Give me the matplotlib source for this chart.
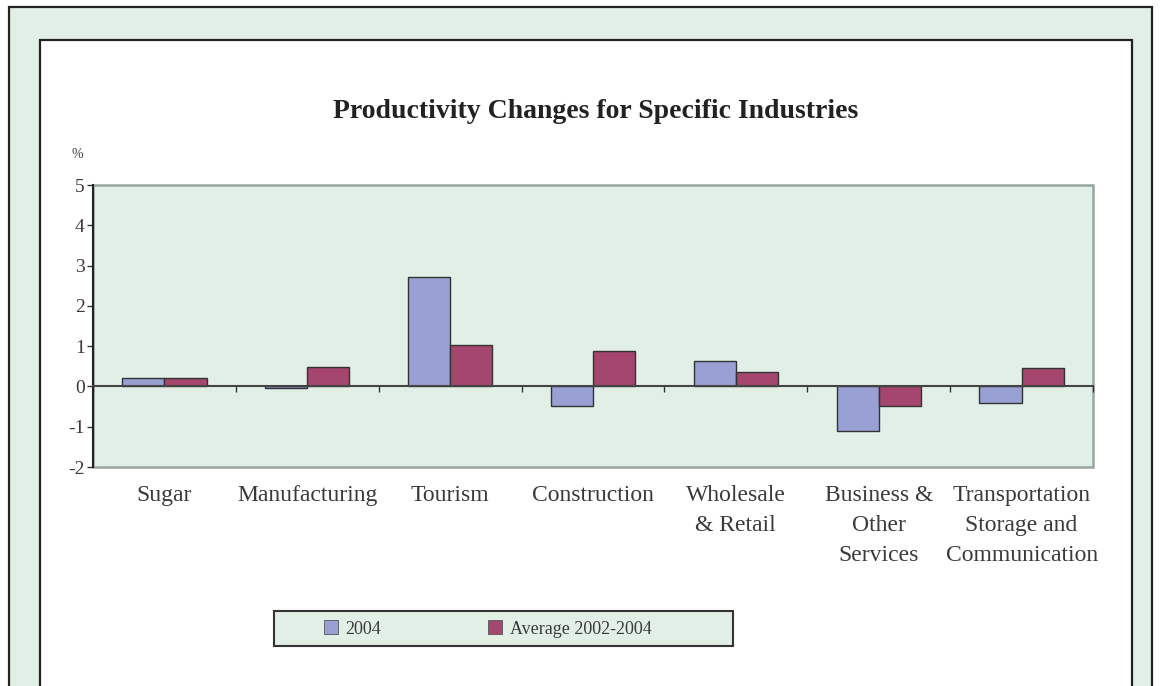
import matplotlib
matplotlib.use("Agg")
import matplotlib.pyplot as plt
from matplotlib.patches import Rectangle, Patch
import numpy as np

plt.rcParams['font.family'] = ['Liberation Serif', 'DejaVu Serif']
plt.rcParams['axes.unicode_minus'] = False

industries = ['Sugar', 'Manufacturing', 'Tourism', 'Construction',
              'Wholesale\n& Retail', 'Business &\nOther\nServices',
              'Transportation\nStorage and\nCommunication']
change_2004 = [0.22, -0.05, 2.72, -0.48, 0.62, -1.1, -0.42]
change_avg = [0.22, 0.48, 1.02, 0.88, 0.35, -0.48, 0.45]
series_names = ['2004', 'Average 2002-2004']

W, H = 1160, 686
BLUE = '#98a0d4'
PLUM = '#a5466e'
PANEL = '#e2efe6'
TEXT = '#3a3a3a'


def fx(px):
    return px / W


def fy(py):
    return 1 - py / H


fig = plt.figure(figsize=(W / 100, H / 100), dpi=100, facecolor='white')

# page frame: green band with dark border, white sheet inside
fig.add_artist(Rectangle((fx(9), fy(720)), fx(1152) - fx(9), fy(7) - fy(720),
                         transform=fig.transFigure, facecolor=PANEL,
                         edgecolor='#222222', linewidth=1.6, zorder=0))
fig.add_artist(Rectangle((fx(40), fy(720)), fx(1132) - fx(40), fy(40) - fy(720),
                         transform=fig.transFigure, facecolor='white',
                         edgecolor='#222222', linewidth=1.6, zorder=0))

ax = fig.add_axes([fx(93), fy(467), fx(1093) - fx(93), fy(185) - fy(467)])
ax.set_facecolor(PANEL)

x = np.arange(len(industries))
w = 0.295
ax.bar(x - w / 2, change_2004, w, color=BLUE, edgecolor='#333333', linewidth=1.0, zorder=3)
ax.bar(x + w / 2, change_avg, w, color=PLUM, edgecolor='#333333', linewidth=1.0, zorder=3)

ax.set_xlim(-0.5, len(industries) - 0.5)
ax.set_ylim(-2, 5)
ax.set_yticks(range(-2, 6))
ax.tick_params(axis='y', direction='out', length=4, width=1, color='#333333',
               labelsize=14, labelcolor=TEXT, pad=2)

# category axis sits on the zero line, ticks between groups
ax.spines['bottom'].set_position(('data', 0))
ax.spines['bottom'].set_color('#444444')
ax.spines['bottom'].set_linewidth(1.5)
ax.spines['bottom'].set_zorder(4)
ax.set_xticks(np.arange(-0.5, len(industries), 1.0))
ax.set_xticklabels([])
ax.tick_params(axis='x', direction='out', length=4, width=1, color='#333333')

ax.spines['left'].set_color('#222222')
ax.spines['left'].set_linewidth(1.5)
ax.spines['top'].set_visible(False)
ax.spines['right'].set_visible(False)
ax.add_patch(Rectangle((0, 0), 1, 1, transform=ax.transAxes, fill=False,
                       edgecolor='#9aa5a0', linewidth=1.8, zorder=1, clip_on=False))

for i, name in enumerate(industries):
    ax.annotate(name, xy=(i, -2), xytext=(0, -13), textcoords='offset points',
                ha='center', va='top', fontsize=17, color=TEXT, linespacing=1.55,
                annotation_clip=False)

fig.text(fx(77), fy(155), '%', ha='center', va='center', fontsize=10, color=TEXT)
fig.text(fx(596), fy(112), 'Productivity Changes for Specific Industries',
         ha='center', va='center', fontsize=20, fontweight='bold', color='#222222')

# legend box
fig.add_artist(Rectangle((fx(274), fy(646)), fx(733) - fx(274), fy(611) - fy(646),
                         transform=fig.transFigure, facecolor=PANEL,
                         edgecolor='#333333', linewidth=1.5, zorder=2))
handles = [Patch(facecolor=BLUE, edgecolor='#555555', linewidth=0.6),
           Patch(facecolor=PLUM, edgecolor='#555555', linewidth=0.6)]
leg = fig.legend(handles, series_names, loc='center left',
                 bbox_to_anchor=(fx(324), fy(629)), ncol=2, frameon=False,
                 fontsize=13, handlelength=0.8, handleheight=0.8,
                 handletextpad=0.4, columnspacing=5.9, borderpad=0,
                 borderaxespad=0)
for t in leg.get_texts():
    t.set_color(TEXT)
leg.set_zorder(3)

fig.savefig('out.png', dpi=100, facecolor='white')
